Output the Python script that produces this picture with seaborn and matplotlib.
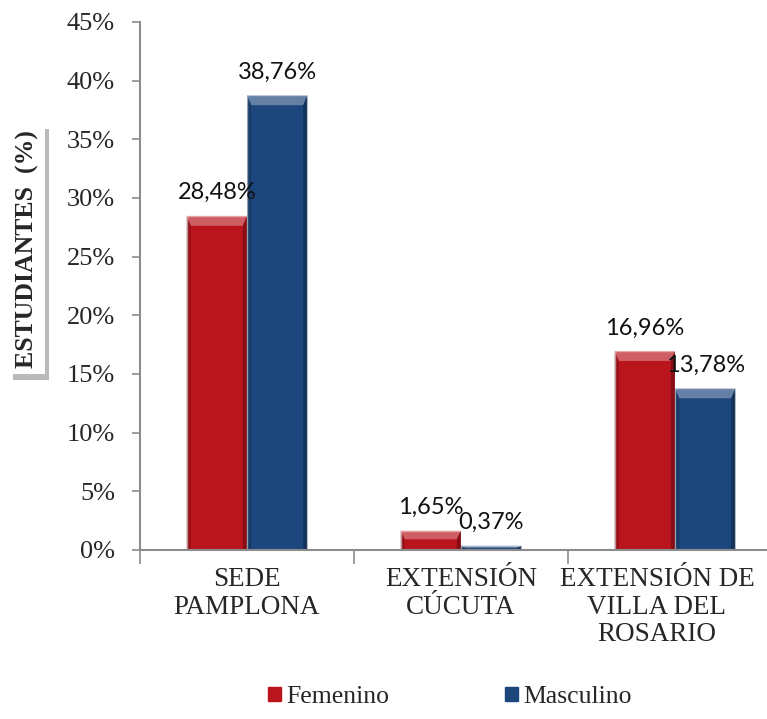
import matplotlib
matplotlib.use("Agg")
import matplotlib.pyplot as plt
import matplotlib.patheffects as pe
import matplotlib.transforms as mtransforms
from matplotlib.patches import Polygon, Patch
from matplotlib.ticker import FuncFormatter, FixedLocator
import matplotlib.colors as mcolors
import pandas as pd
import seaborn as sns

# datos
sedes = ["SEDE\nPAMPLONA", "EXTENSIÓN\nCÚCUTA", "EXTENSIÓN DE\nVILLA DEL\nROSARIO"]
femenino = [28.48, 1.65, 16.96]
masculino = [38.76, 0.37, 13.78]
generos = ["Femenino", "Masculino"]
colores = {"Femenino": "#BA141D", "Masculino": "#1D467C"}

df = pd.DataFrame({
    "sede": sedes * 2,
    "genero": ["Femenino"] * 3 + ["Masculino"] * 3,
    "valor": femenino + masculino,
})

sns.set_style("white")
plt.rcParams["font.family"] = ["Liberation Serif", "DejaVu Serif"]

fig = plt.figure(figsize=(7.67, 7.19), dpi=100)
ax = fig.add_axes([140 / 767, 1 - 550 / 719, 642 / 767, 528 / 719])

sns.barplot(data=df, x="sede", y="valor", hue="genero", palette=colores,
            width=0.565, gap=0, saturation=1, ax=ax, legend=False)

ax.set_ylim(0, 45)
ax.set_xlim(-0.5, 2.5)
ax.yaxis.set_major_locator(FixedLocator(range(0, 46, 5)))
ax.yaxis.set_major_formatter(FuncFormatter(lambda v, p: f"{v:.0f}%"))
ax.tick_params(axis="y", labelsize=19, length=6, width=1.2, color="#8c8c8c",
               direction="out", pad=12, left=True)
ax.tick_params(axis="x", which="major", labelsize=19.5, length=0, pad=12)
ax.set_xticks(range(3))
ax.set_xticklabels(sedes, linespacing=1.15)
ax.xaxis.set_minor_locator(FixedLocator([-0.5, 0.5, 1.5, 2.5]))
ax.tick_params(axis="x", which="minor", length=10, width=1.2,
               color="#8c8c8c", direction="out", bottom=True)
for s in ["top", "right"]:
    ax.spines[s].set_visible(False)
for s in ["left", "bottom"]:
    ax.spines[s].set_color("#8c8c8c")
    ax.spines[s].set_linewidth(1.5)
ax.set_xlabel("")
ax.set_ylabel("")

# la última etiqueta se corre a la izquierda para que quepa
ultima = ax.get_xticklabels()[-1]
ultima.set_transform(ultima.get_transform() +
                     mtransforms.ScaledTranslation(-0.18, 0, fig.dpi_scale_trans))

# efecto bisel sobre cada barra
for cont in ax.containers:
    for bar in cont:
        x0, w, h = bar.get_x(), bar.get_width(), bar.get_height()
        base = mcolors.to_rgb(bar.get_facecolor())
        claro = tuple(min(1, c * 0.55 + 0.45) for c in base)
        oscuro = tuple(c * 0.6 for c in base)
        dx = w * 0.07
        dy = min(0.85, h * 0.45)
        ax.add_patch(Polygon([(x0, h), (x0 + w, h), (x0 + w - dx, h - dy), (x0 + dx, h - dy)],
                             closed=True, facecolor=claro, edgecolor="none", alpha=0.7))
        ax.add_patch(Polygon([(x0 + w, 0), (x0 + w, h), (x0 + w - dx, h - dy), (x0 + w - dx, 0)],
                             closed=True, facecolor=oscuro, edgecolor="none", alpha=0.7))
        ax.add_patch(Polygon([(x0, 0), (x0, h), (x0 + dx, h - dy), (x0 + dx, 0)],
                             closed=True, facecolor=oscuro, edgecolor="none", alpha=0.45))
        ax.annotate(f"{h:.2f}".replace(".", ",") + "%", (x0 + w / 2, h),
                    xytext=(0, 9), textcoords="offset points", ha="center", va="bottom",
                    fontsize=17, family=["Lato", "DejaVu Sans"], color="#111111")

# etiqueta del eje y en recuadro con sombra
t = fig.text(27 / 767, 1 - 249 / 719, "ESTUDIANTES  (%)", rotation=90,
             ha="center", va="center", fontsize=18.5, fontweight="bold",
             bbox=dict(boxstyle="square,pad=0.25", facecolor="white", edgecolor="none"))
t.get_bbox_patch().set_path_effects([
    pe.SimplePatchShadow(offset=(3, -4), shadow_rgbFace="#777777", alpha=0.5),
    pe.Normal()])

handles = [Patch(facecolor=colores[g], edgecolor=colores[g]) for g in generos]
fig.legend(handles, generos, loc="center", bbox_to_anchor=(450 / 767, 1 - 697 / 719),
           ncol=2, frameon=False, fontsize=18.5, handlelength=0.5, handleheight=0.5,
           handletextpad=0.2, columnspacing=4.5)

fig.savefig("out.png", dpi=100)
